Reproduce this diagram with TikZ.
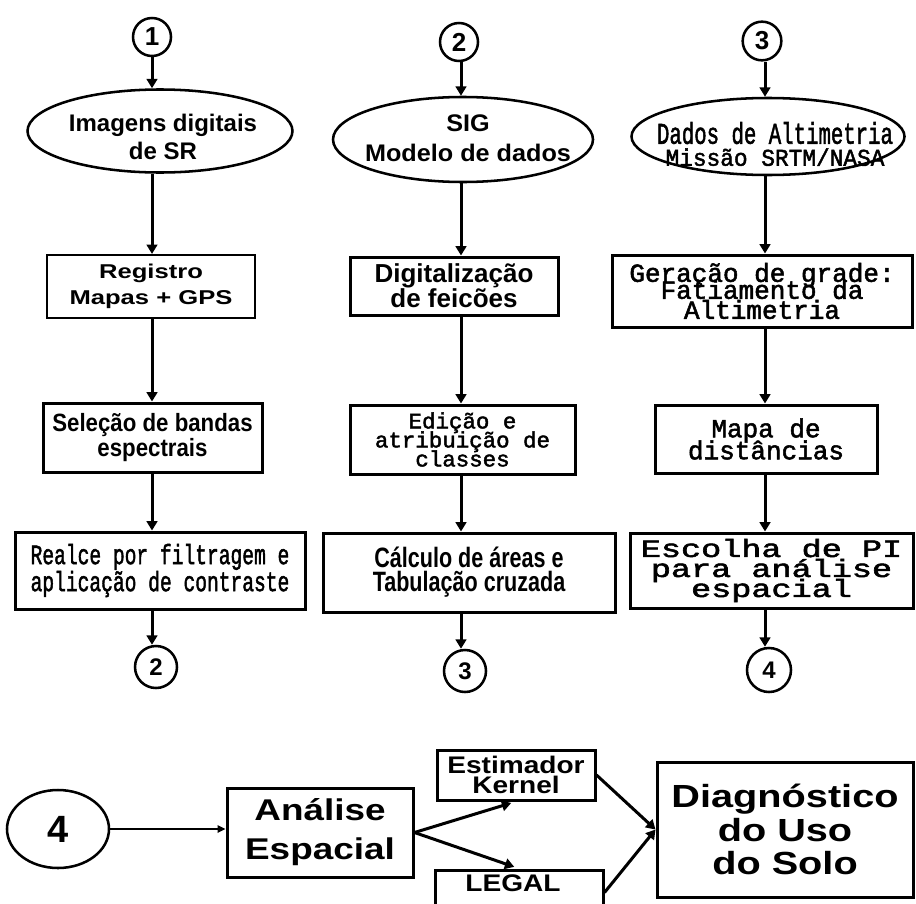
\documentclass[tikz,border=0pt]{standalone}
\usepackage{fontspec}
\usepackage{graphicx}
\usetikzlibrary{shapes.geometric,arrows.meta}
\setmainfont{Liberation Sans}
\newfontfamily\sansfam{Liberation Sans}
\newfontfamily\monofam{Liberation Mono}[FakeBold=2]

% #1 font, #2 size, #3 line distance, #4 horizontal scale, #5 lines separated by \cr
\newcommand\tx[5]{\scalebox{#4}[1]{\fontsize{#2}{#3}#1%
  \vbox{\baselineskip=#3\relax\lineskiplimit=-\maxdimen\lineskip=0pt
  \halign{\hfil##\hfil\cr#5\crcr}}}}
\newcommand\sfb{\sansfam\bfseries}

\tikzset{
  sz/.style n args={2}{minimum width=#1*0.75pt, minimum height=#2*0.75pt},
  boxnode/.style={draw, line width=2.25pt, rectangle, inner sep=0pt},
  ovalnode/.style={draw, line width=1.9pt, ellipse, inner sep=0pt},
  numnode/.style={draw, line width=1.9pt, circle, inner sep=0pt},
  textnode/.style={inner sep=0pt},
  arr/.style={line width=2.25pt, -{Triangle[length=7pt,width=8pt]}},
  thinarr/.style={line width=1.5pt, -{Triangle[length=6pt,width=5.5pt]}}
}

\begin{document}
\begin{tikzpicture}[x=0.75pt, y=-0.75pt]
\useasboundingbox (0,0) rectangle (916,903);
\clip (0,0) rectangle (916,903);

% column axes
\coordinate (X1) at (152,0);
\coordinate (X2) at (461,0);
\coordinate (X3) at (765,0);

% ---- column 1
\node[numnode, minimum size=28.5pt] (c1) at (152,37) {\fontsize{19.5pt}{20pt}\sfb 1};
\node[ovalnode, sz={265}{83}] (e1) at (160,131) {};
\node[textnode] (e1t) at (163,137) {\tx{\sfb}{18pt}{21pt}{1.0}{Imagens digitais\cr de SR}};
\node[boxnode, line width=1.6pt, sz={208}{63}] (B1) at (151,286.5)
  {\tx{\sfb}{15pt}{19.5pt}{1.28}{Registro\cr Mapas + GPS}};
\node[boxnode, sz={219}{69}] (S1) at (152.5,437.5)
  {\tx{\sfb}{18.75pt}{18.75pt}{0.89}{Seleção de bandas\cr espectrais}};
\node[boxnode, sz={290}{77}] (R1) at (160,570.5)
  {\tx{\monofam}{21pt}{20.25pt}{0.70}{Realce por filtragem e\cr aplicação de contraste}};
\node[numnode, minimum size=31.5pt] (C2b) at (156,667) {\fontsize{18pt}{20pt}\sfb 2};

% ---- column 2
\node[numnode, minimum size=28.5pt] (c2) at (459,42) {\fontsize{19.5pt}{20pt}\sfb 2};
\node[ovalnode, sz={260}{85}] (e2) at (463,139.5) {};
\node[textnode] (e2t) at (468,138) {\tx{\sfb}{18pt}{22.5pt}{1.05}{SIG\cr Modelo de dados}};
\node[boxnode, sz={208}{58}] (B2) at (454,286)
  {\tx{\sfb}{19.5pt}{18.75pt}{1.0}{Digitalização\cr de feicões}};
\node[boxnode, sz={225}{69}] (S2) at (462.5,439.5)
  {\tx{\monofam}{16.5pt}{14.25pt}{1.02}{Edição e\cr atribuição de\cr classes}};
\node[boxnode, sz={292}{79}] (R2) at (469,572.5)
  {\tx{\sfb}{21pt}{18pt}{0.77}{Cálculo de áreas e\cr Tabulação cruzada}};
\node[numnode, minimum size=31.5pt] (C3b) at (465,671) {\fontsize{18pt}{20pt}\sfb 3};

% ---- column 3
\node[numnode, minimum size=29pt] (c3) at (762,41) {\fontsize{19.5pt}{20pt}\sfb 3};
\node[ovalnode, sz={273}{77}] (e3) at (768,136.5) {};
\node[textnode] (e3t) at (775,144) {\tx{\monofam}{18pt}{16.5pt}{1.0}{%
  \scalebox{0.69}[1]{\fontsize{22.5pt}{15pt}\selectfont Dados de Altimetria}\cr
  \scalebox{0.95}[1]{\fontsize{18pt}{15pt}\selectfont Missão SRTM/NASA}}};
\node[boxnode, sz={300}{72}] (B3) at (762,291)
  {\tx{\monofam}{19.5pt}{12.75pt}{1.0}{Geração de grade:\cr Fatiamento da\cr\noalign{\vskip2.25pt} Altimetria}};
\node[boxnode, sz={222}{68}] (S3) at (766,439)
  {\tx{\monofam}{19.5pt}{16.5pt}{1.0}{Mapa de\cr distâncias}};
\node[boxnode, sz={283}{75}] (R3) at (771.5,570.5)
  {\tx{\monofam}{18.75pt}{15pt}{1.34}{Escolha de PI\cr para análise\cr espacial}};
\node[numnode, minimum size=33pt] (C4b) at (769,670) {\fontsize{18pt}{20pt}\sfb 4};

% ---- vertical flow
\draw[arr] (X1 |- c1.south) -- (X1 |- e1.north);
\draw[arr] (X1 |- e1.south) -- (X1 |- B1.north);
\draw[arr] (X1 |- B1.south) -- (X1 |- S1.north);
\draw[arr] (X1 |- S1.south) -- (X1 |- R1.north);
\draw[arr] (X1 |- R1.south) -- (X1 |- C2b.north);

\draw[arr] (X2 |- c2.south) -- (X2 |- e2.north);
\draw[arr] (X2 |- e2.south) -- (X2 |- B2.north);
\draw[arr] (X2 |- B2.south) -- (X2 |- S2.north);
\draw[arr] (X2 |- S2.south) -- (X2 |- R2.north);
\draw[arr] (X2 |- R2.south) -- (X2 |- C3b.north);

\draw[arr] (X3 |- c3.south) -- (X3 |- e3.north);
\draw[arr] (X3 |- e3.south) -- (X3 |- B3.north);
\draw[arr] (X3 |- B3.south) -- (X3 |- S3.north);
\draw[arr] (X3 |- S3.south) -- (X3 |- R3.north);
\draw[arr] (X3 |- R3.south) -- (X3 |- C4b.north);

% ---- spatial analysis row
\node[ovalnode, sz={102}{78}] (E4) at (58,829) {\fontsize{28.5pt}{30pt}\sfb 4};
\node[boxnode, sz={186}{89}] (A) at (320,832.5)
  {\tx{\sfb}{22.5pt}{29.25pt}{1.23}{Análise\cr Espacial}};
\node[boxnode, sz={158}{50}] (K) at (516,775)
  {\tx{\sfb}{18pt}{15pt}{1.17}{Estimador\cr Kernel}};
\node[boxnode, sz={168}{45}] (L) at (519,892.5) {};
\node[textnode] (Lt) at (513,883.5) {\tx{\sfb}{18pt}{18pt}{1.17}{LEGAL}};
\node[boxnode, sz={256}{135}] (D) at (785,829.5)
  {\tx{\sfb}{24pt}{25pt}{1.24}{Diagnóstico\cr do Uso\cr do Solo}};

\draw[thinarr] (E4.east) -- (E4.east -| A.west);
\draw[arr, shorten >=3.75pt] (A.east) -- (K.south);
\draw[arr, shorten >=3.75pt] (A.east) -- (L.north);
\draw[arr] (K.east) -- (D.west);
\draw[arr] (L.east) -- (D.west);
\end{tikzpicture}
\end{document}
